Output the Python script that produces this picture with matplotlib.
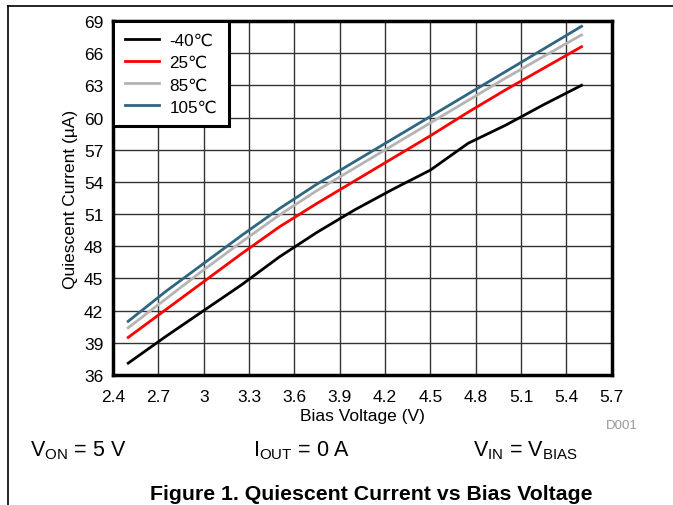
import matplotlib

matplotlib.use("Agg")
from matplotlib import pyplot as plt
from matplotlib.lines import Line2D

plt.rcParams["font.family"] = ["Liberation Sans", "DejaVu Sans"]
plt.rcParams["mathtext.fontset"] = "custom"
plt.rcParams["mathtext.rm"] = "Liberation Sans"

bias_voltage = [2.5, 2.75, 3.0, 3.25, 3.5, 3.75, 4.0, 4.25, 4.5, 4.75, 5.0, 5.25, 5.5]
iq_m40 = [37.1, 39.6, 42.0, 44.4, 47.0, 49.3, 51.4, 53.3, 55.1, 57.6, 59.3, 61.2, 63.0]
iq_25 = [39.5, 42.1, 44.7, 47.3, 49.8, 52.0, 54.1, 56.2, 58.3, 60.5, 62.6, 64.6, 66.6]
iq_85 = [40.4, 43.1, 45.8, 48.4, 50.9, 53.2, 55.3, 57.4, 59.5, 61.6, 63.7, 65.7, 67.7]
iq_105 = [41.0, 43.8, 46.4, 49.0, 51.5, 53.8, 55.9, 58.0, 60.1, 62.2, 64.3, 66.4, 68.5]

series_labels = ["-40\u2103", "25\u2103", "85\u2103", "105\u2103"]
series_colors = ["#000000", "#ff0000", "#b4b4b4", "#2f6680"]

x_ticks = [2.4, 2.7, 3.0, 3.3, 3.6, 3.9, 4.2, 4.5, 4.8, 5.1, 5.4, 5.7]
x_tick_labels = ["2.4", "2.7", "3", "3.3", "3.6", "3.9", "4.2", "4.5", "4.8", "5.1", "5.4", "5.7"]
y_ticks = [36, 39, 42, 45, 48, 51, 54, 57, 60, 63, 66, 69]


def main() -> None:
    fig = plt.figure(figsize=(6.73, 5.06), dpi=100)
    ax = fig.add_axes((0.168, 0.257, 0.741, 0.6996))

    for values, label, color in zip([iq_m40, iq_25, iq_85, iq_105], series_labels, series_colors):
        ax.plot(bias_voltage, values, color=color, lw=2.0, label=label, zorder=3)

    ax.set_xlim(2.4, 5.7)
    ax.set_ylim(36, 69)
    ax.set_xticks(x_ticks)
    ax.set_xticklabels(x_tick_labels)
    ax.set_yticks(y_ticks)
    ax.tick_params(axis="x", length=0, labelsize=12.5, pad=10)
    ax.tick_params(axis="y", length=0, labelsize=12.5, pad=7)
    ax.grid(True, color="#333333", lw=1.0)
    for spine in ax.spines.values():
        spine.set_linewidth(2.5)
        spine.set_zorder(5)

    ax.set_xlabel("Bias Voltage (V)", fontsize=12.5, labelpad=3)
    ax.set_ylabel("Quiescent Current (\u00b5A)", fontsize=12.5, labelpad=4)

    leg = ax.legend(
        loc="upper left",
        bbox_to_anchor=(0, 1),
        borderaxespad=0,
        fancybox=False,
        edgecolor="black",
        fontsize=12.3,
        handlelength=2.0,
        handletextpad=0.6,
        labelspacing=0.42,
        borderpad=0.7,
        framealpha=1,
    )
    leg.get_frame().set_linewidth(2.2)
    leg.set_zorder(6)

    fig.text(0.947, 0.158, "D001", fontsize=9.5, color="#999999", ha="right", va="center")
    fig.text(0.045, 0.11, r"V$_{\mathregular{ON}}$ = 5 V", fontsize=15.5, va="center")
    fig.text(0.376, 0.11, r"I$_{\mathregular{OUT}}$ = 0 A", fontsize=15.5, va="center")
    fig.text(0.703, 0.11, r"V$_{\mathregular{IN}}$ = V$_{\mathregular{BIAS}}$", fontsize=15.5, va="center")
    fig.text(0.552, 0.023, "Figure 1. Quiescent Current vs Bias Voltage",
             fontsize=15.3, fontweight="bold", ha="center", va="center")

    fig.add_artist(Line2D([0.012, 0.012], [0.0, 0.986], color="black", lw=1.2))
    fig.add_artist(Line2D([0.012, 1.0], [0.986, 0.986], color="black", lw=1.2))

    fig.savefig("out.png", dpi=100)


if __name__ == "__main__":
    main()
